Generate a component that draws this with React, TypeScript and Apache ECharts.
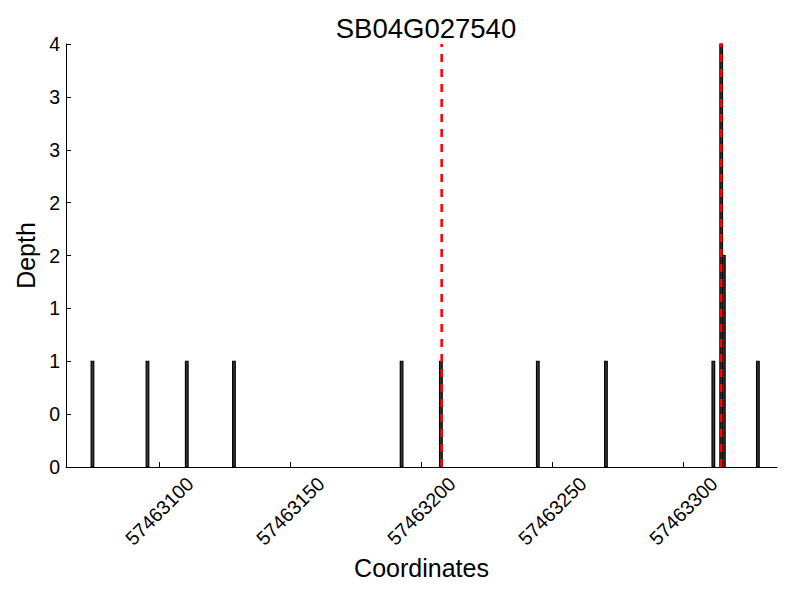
import React, { useEffect, useRef } from "react";
import * as echarts from "echarts";

const title = "SB04G027540";
const xName = "Coordinates";
const yName = "Depth";

// bar left edges (each bar spans one coordinate) and depths
const positions = [57463074, 57463095, 57463110, 57463128, 57463192, 57463207, 57463244, 57463270, 57463311, 57463314, 57463315, 57463328];
const depths = [1, 1, 1, 1, 1, 1, 1, 1, 1, 4, 2, 1];

// red dashed marker lines
const markers = [57463207.8, 57463314.5];

const xTickValues = [57463100, 57463150, 57463200, 57463250, 57463300];
const yTickValues = [0, 0.5, 1, 1.5, 2, 2.5, 3, 3.5, 4];
const yTickLabels = ["0", "0", "1", "1", "2", "2", "3", "3", "4"];

const xMin = 57463064.4;
const xMax = 57463335.8;
const yMin = 0;
const yMax = 4;

const FONT = "'Liberation Sans', Arial, sans-serif";

export default function App() {
  const ref = useRef<HTMLDivElement>(null);
  useEffect(() => {
    if (!ref.current) return;
    const chart = echarts.init(ref.current, undefined, { renderer: "svg" });
    const barData = positions.map((p, i) => [p, depths[i]]);
    const markerSeries = markers.map((m) => ({
      type: "line",
      data: [[m, yMin], [m, yMax]],
      symbol: "none",
      z: 5,
      lineStyle: { color: "#ff0000", width: 2.6, type: [8, 7] },
      silent: true,
    }));
    chart.setOption({
      animation: false,
      backgroundColor: "#ffffff",
      textStyle: { fontFamily: FONT },
      title: {
        text: title,
        left: 421,
        top: 9,
        textAlign: "center",
        textStyle: { fontFamily: FONT, fontSize: 27.5, fontWeight: "normal", color: "#000" },
      },
      grid: { left: 66, top: 44, width: 711, height: 423, containLabel: false },
      xAxis: {
        type: "value",
        min: xMin,
        max: xMax,
        name: xName,
        nameLocation: "middle",
        nameGap: 87,
        nameTextStyle: { fontFamily: FONT, fontSize: 25, color: "#000" },
        axisLine: { show: true, lineStyle: { color: "#000", width: 1 } },
        axisTick: { show: true, inside: true, length: 5, customValues: xTickValues, lineStyle: { color: "#000" } },
        axisLabel: {
          customValues: xTickValues,
          formatter: (v: number) => String(v),
          rotate: 45,
          align: "center",
          verticalAlign: "middle",
          margin: 44,
          fontFamily: FONT,
          fontSize: 19.5,
          color: "#000",
        },
        splitLine: { show: false },
      },
      yAxis: {
        type: "value",
        min: yMin,
        max: yMax,
        interval: 0.5,
        name: yName,
        nameLocation: "middle",
        nameGap: 28,
        nameTextStyle: { fontFamily: FONT, fontSize: 25, color: "#000" },
        axisLine: { show: true, lineStyle: { color: "#000", width: 1 } },
        axisTick: { show: true, inside: true, length: 5, customValues: yTickValues, lineStyle: { color: "#000" } },
        axisLabel: {
          customValues: yTickValues,
          formatter: (v: number) => {
            const i = yTickValues.findIndex((t) => Math.abs(t - v) < 1e-9);
            return i >= 0 ? yTickLabels[i] : "";
          },
          margin: 6,
          fontFamily: FONT,
          fontSize: 19.5,
          color: "#000",
        },
        splitLine: { show: false },
      },
      series: [
        {
          type: "custom",
          data: barData,
          z: 2,
          renderItem: (params: any, api: any) => {
            const x = api.value(0);
            const h = api.value(1);
            const p0 = api.coord([x, h]);
            const p1 = api.coord([x + 1, 0]);
            return {
              type: "rect",
              shape: { x: p0[0], y: p0[1], width: p1[0] - p0[0], height: p1[1] - p0[1] },
              style: { fill: "#3a3a3a", stroke: "#000", lineWidth: 1.2 },
            };
          },
        },
        ...markerSeries,
      ],
    });
    return () => chart.dispose();
  }, []);
  return (
    <div
      ref={ref}
      style={{ position: "fixed", left: 0, top: 0, width: 800, height: 600, background: "#fff" }}
    />
  );
}
